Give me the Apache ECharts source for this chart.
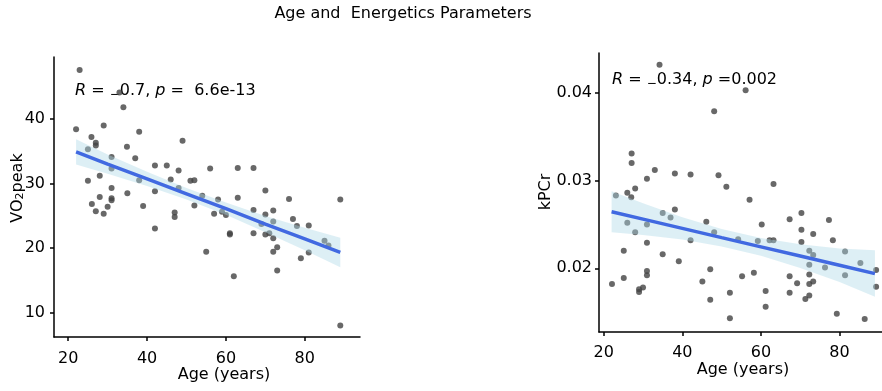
<!DOCTYPE html>
<html>
<head>
<meta charset="utf-8">
<script src="https://cdn.jsdelivr.net/npm/echarts@6.0.0/dist/echarts.min.js"></script>
<style>
  html, body { margin: 0; padding: 0; background: #fff; }
  #chart { width: 882px; height: 391px; }
</style>
</head>
<body>
<div id="chart"></div>
<script>
// left panel: VO2peak vs age
const vo2Age = [22.9, 22, 33, 34, 25, 25.9, 27, 27, 29, 25, 28, 31, 31, 34.9, 37, 38, 38, 35, 28, 31, 31, 31, 26, 27, 29, 30,
  39, 42, 42, 45, 46, 48, 48, 49, 47, 47, 42, 51, 52, 52, 54, 56, 57, 58, 59, 60, 61, 61, 63, 63, 67, 67, 67, 70, 70, 70,
  71, 72, 72, 72, 69, 76, 77, 78, 81, 89, 85, 86, 55, 62, 72, 73, 73, 79, 81, 89]
const vo2Peak = [47.6, 38.4, 44.1, 41.8, 35.3, 37.2, 36.3, 35.9, 39.0, 30.4, 31.2, 34.1, 32.3, 35.7, 33.9, 38.0, 30.5, 28.5,
  27.9, 29.3, 27.7, 27.4, 26.8, 25.7, 25.3, 26.4, 26.5, 32.8, 28.8, 32.8, 30.6, 32.0, 29.3, 36.6, 25.5, 24.8, 23.0, 30.4,
  30.5, 26.6, 28.1, 32.3, 25.3, 27.5, 25.6, 25.1, 22.3, 22.1, 27.8, 32.4, 32.4, 25.9, 22.3, 28.9, 25.2, 22.1, 22.3, 25.8,
  24.1, 21.5, 23.7, 27.6, 24.5, 23.4, 23.5, 27.5, 21.1, 20.4, 19.4, 15.6, 19.4, 20.1, 16.5, 18.4, 19.3, 8.0]

// right panel: kPCr vs age
const kpcrAge = [34.2, 56.1, 48.1, 27.1, 27.1, 28, 31, 33, 38.1, 42.1, 49.2, 51.2, 63.2, 57.1, 23.1, 26, 27, 38.1, 35, 37,
  26, 31, 46.1, 60.2, 67.3, 70.3, 77.3, 28, 48.1, 42.1, 25.1, 31, 35, 39.1, 22.1, 25.1, 31, 31, 29, 29, 30, 45.1, 47.1,
  47.1, 52.1, 52.1, 54.2, 55.2, 58.2, 59.2, 61.2, 61.2, 62.2, 63.2, 67.3, 67.3, 69.2, 70.3, 70.3, 71.3, 72.3, 72.3, 72.3,
  72.3, 73.3, 72.3, 73.3, 73.3, 76.3, 78.3, 79.3, 81.4, 81.4, 85.3, 86.4, 89.3, 89.3]
const kpcr = [0.0432, 0.0403, 0.0379, 0.0331, 0.0320, 0.0291, 0.0302, 0.0312, 0.0308, 0.0307, 0.0306, 0.0293, 0.0296,
  0.0278, 0.0283, 0.0286, 0.0281, 0.0267, 0.0263, 0.0258, 0.0252, 0.0250, 0.0253, 0.0250, 0.0256, 0.0263, 0.0255,
  0.0241, 0.0241, 0.0232, 0.0220, 0.0229, 0.0216, 0.0208, 0.0182, 0.0189, 0.0197, 0.0192, 0.0176, 0.0173, 0.0178,
  0.0185, 0.0199, 0.0164, 0.0172, 0.0143, 0.0233, 0.0191, 0.0195, 0.0231, 0.0174, 0.0156, 0.0232, 0.0232, 0.0191,
  0.0172, 0.0183, 0.0244, 0.0230, 0.0165, 0.0220, 0.0204, 0.0193, 0.0182, 0.0185, 0.0169, 0.0239, 0.0215, 0.0201,
  0.0232, 0.0148, 0.0219, 0.0192, 0.0206, 0.0142, 0.0198, 0.0179]

// fitted line and confidence band
const fitAge = [22, 30, 40, 50, 60, 70, 80, 89]
const vo2Fit = [34.9, 33.0, 30.7, 28.4, 26.1, 23.7, 21.4, 19.3]
const vo2Upper = [36.85, 34.5, 31.8, 29.3, 27.05, 24.95, 23.15, 21.6]
const vo2Lower = [32.95, 31.5, 29.6, 27.5, 25.15, 22.45, 19.65, 17.0]
const kpcrFit = [0.02644, 0.0256, 0.02455, 0.02349, 0.02244, 0.02139, 0.02034, 0.01939]
const kpcrUpper = [0.02877, 0.0274, 0.02583, 0.02449, 0.02344, 0.02274, 0.02224, 0.02204]
const kpcrLower = [0.02411, 0.0238, 0.02327, 0.02249, 0.02144, 0.02004, 0.01844, 0.01674]

const xTicks = [20, 40, 60, 80]
const vo2Ticks = [10, 20, 30, 40]
const kpcrTicks = [0.02, 0.03, 0.04]

const FONT = "DejaVu Sans"
const chart = echarts.init(document.getElementById("chart"))

function axis(gridIndex, min, max, ticks, margin, fmt) {
  return {
    type: "value",
    gridIndex,
    min,
    max,
    axisLine: { show: true, onZero: false, lineStyle: { color: "#000", width: 1.5 } },
    axisTick: { show: true, length: 4, customValues: ticks, lineStyle: { color: "#000", width: 1.5 } },
    axisLabel: { color: "#000", fontSize: 16, fontFamily: FONT, margin, customValues: ticks, formatter: fmt },
    splitLine: { show: false },
  }
}

function pairs(xs, ys) {
  return xs.map((x, i) => [x, ys[i]])
}

function band(idx, upper, lower) {
  return {
    type: "custom",
    xAxisIndex: idx,
    yAxisIndex: idx,
    z: 3,
    silent: true,
    data: [[0, 0]],
    renderItem: (params, api) => {
      const pts = []
      fitAge.forEach((a, i) => pts.push(api.coord([a, upper[i]])))
      for (let i = fitAge.length - 1; i >= 0; i--) pts.push(api.coord([fitAge[i], lower[i]]))
      return { type: "polygon", shape: { points: pts }, style: { fill: "rgba(173, 216, 230, 0.42)" } }
    },
  }
}

function scatter(idx, xs, ys) {
  return {
    type: "scatter",
    xAxisIndex: idx,
    yAxisIndex: idx,
    z: 2,
    symbolSize: 6,
    itemStyle: { color: "#424242" },
    data: pairs(xs, ys),
  }
}

function fitLine(idx, ys) {
  return {
    type: "line",
    xAxisIndex: idx,
    yAxisIndex: idx,
    z: 4,
    showSymbol: false,
    lineStyle: { color: "#4169E1", width: 3.5 },
    data: pairs(fitAge, ys),
  }
}

const txt = (x, y, text, extra) => ({
  type: "text",
  x,
  y,
  style: Object.assign({ text, fill: "#000", font: "16px '" + FONT + "'", align: "center", verticalAlign: "middle" }, extra),
})

const statRich = {
  i: { fontStyle: "italic", fontSize: 16, fontFamily: FONT, lineHeight: 20 },
  n: { fontSize: 16, fontFamily: FONT, lineHeight: 20 },
  neg: { fontSize: 12, fontFamily: FONT, lineHeight: 10, verticalAlign: "bottom" },
}

const option = {
  animation: false,
  backgroundColor: "#fff",
  textStyle: { fontFamily: FONT },
  grid: [
    { left: 54, top: 57, width: 306, height: 280 },
    { left: 599, top: 53, width: 283, height: 279 },
  ],
  xAxis: [
    axis(0, 16.4, 94.0, xTicks, 14),
    axis(1, 18.8, 90.8, xTicks, 13),
  ],
  yAxis: [
    axis(0, 6.2, 49.6, vo2Ticks, 9),
    axis(1, 0.01273, 0.04455, kpcrTicks, 7, (v) => v.toFixed(2)),
  ],
  series: [
    scatter(0, vo2Age, vo2Peak),
    band(0, vo2Upper, vo2Lower),
    fitLine(0, vo2Fit),
    scatter(1, kpcrAge, kpcr),
    band(1, kpcrUpper, kpcrLower),
    fitLine(1, kpcrFit),
  ],
  graphic: [
    txt(403, 14, "Age and  Energetics Parameters"),
    txt(224, 375, "Age (years)"),
    txt(743, 370, "Age (years)"),
    {
      type: "text",
      x: 18,
      y: 188,
      rotation: Math.PI / 2,
      style: {
        text: "VO{sub|2}peak",
        fill: "#000",
        font: "16px '" + FONT + "'",
        align: "center",
        verticalAlign: "middle",
        rich: { sub: { fontSize: 11, fontFamily: FONT, lineHeight: 6, verticalAlign: "bottom" } },
      },
    },
    Object.assign(txt(546, 192, "kPCr"), { rotation: Math.PI / 2 }),
    {
      type: "text",
      x: 75,
      y: 91,
      style: {
        text: "{i|R}{n| = }{neg|−}{n|0.7, }{i|p}{n| =  6.6e-13}",
        fill: "#000",
        align: "left",
        verticalAlign: "middle",
        rich: statRich,
      },
    },
    {
      type: "text",
      x: 612,
      y: 80,
      style: {
        text: "{i|R}{n| = }{neg|−}{n|0.34, }{i|p}{n| =0.002}",
        fill: "#000",
        align: "left",
        verticalAlign: "middle",
        rich: statRich,
      },
    },
  ],
}

chart.setOption(option)
</script>
</body>
</html>
